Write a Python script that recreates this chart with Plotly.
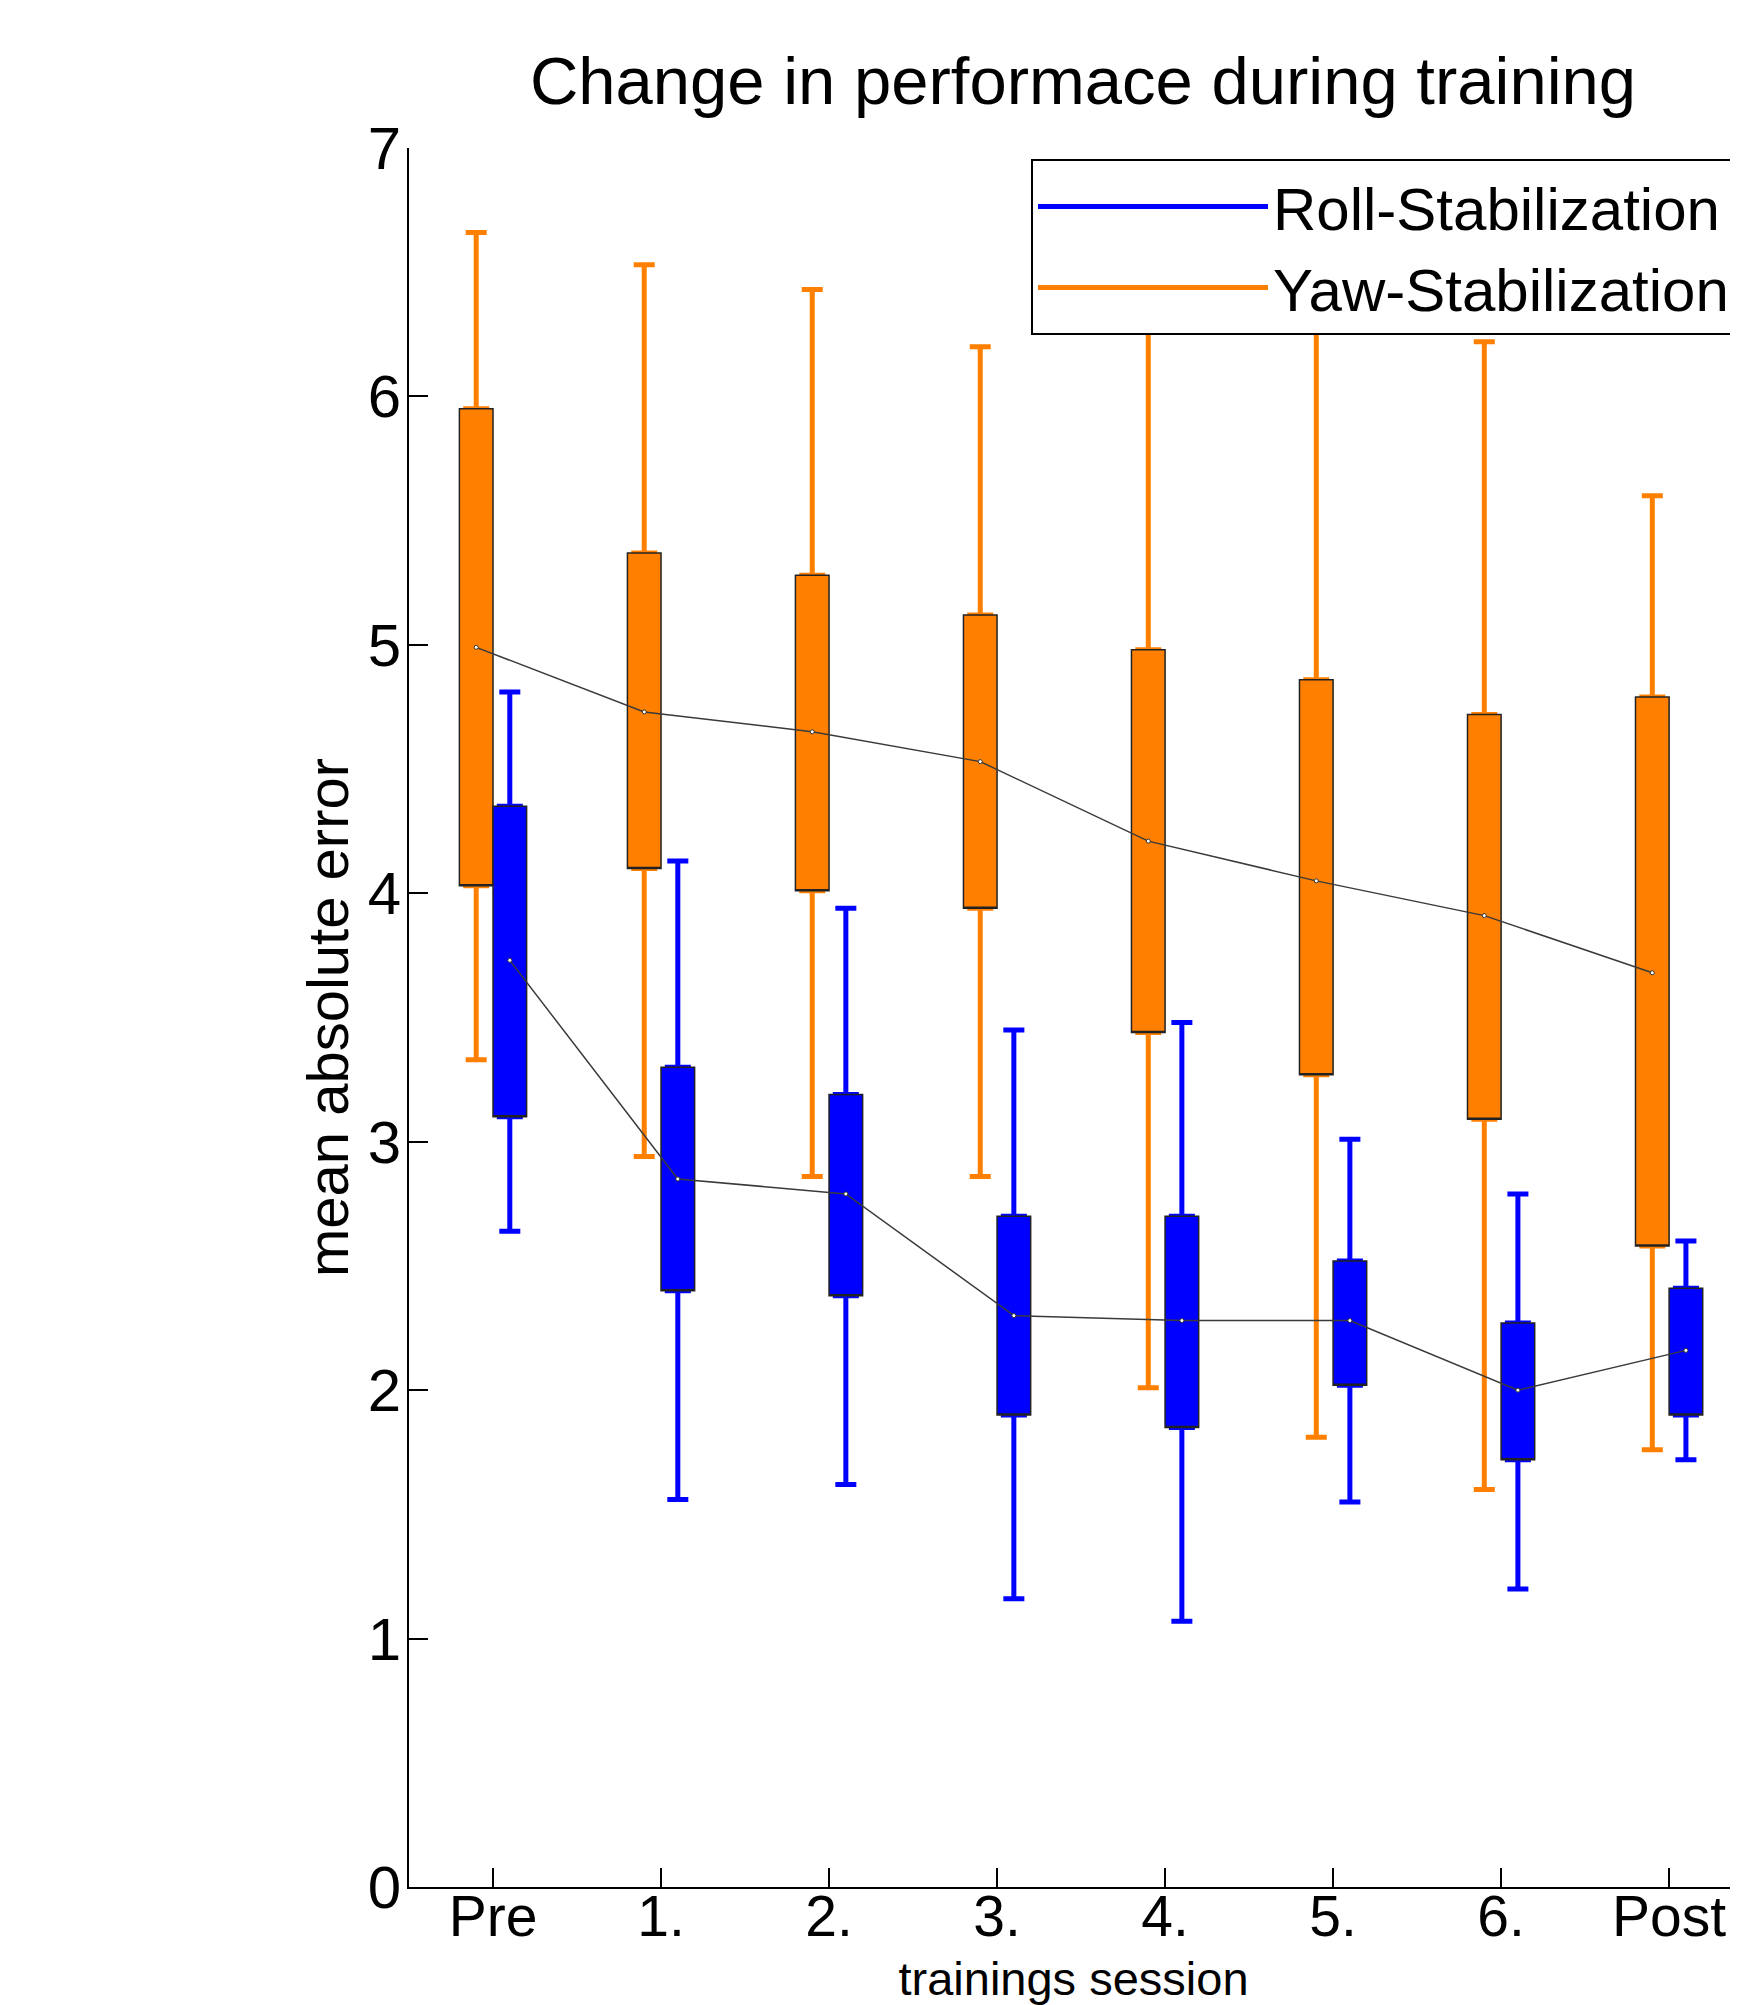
import plotly.graph_objects as go
import numpy as np

sessions = ["Pre", "1.", "2.", "3.", "4.", "5.", "6.", "Post"]
positions = np.arange(1, 9)

# Yaw-Stabilization (orange)
yaw_upper = [6.66, 6.53, 6.43, 6.20, 6.60, 6.32, 6.22, 5.60]
yaw_q3 = [5.95, 5.37, 5.28, 5.12, 4.98, 4.86, 4.72, 4.79]
yaw_median = [4.99, 4.73, 4.65, 4.53, 4.21, 4.05, 3.91, 3.68]
yaw_q1 = [4.03, 4.10, 4.01, 3.94, 3.44, 3.27, 3.09, 2.58]
yaw_lower = [3.33, 2.94, 2.86, 2.86, 2.01, 1.81, 1.60, 1.76]

# Roll-Stabilization (blue)
roll_upper = [4.81, 4.13, 3.94, 3.45, 3.48, 3.01, 2.79, 2.60]
roll_q3 = [4.35, 3.30, 3.19, 2.70, 2.70, 2.52, 2.27, 2.41]
roll_median = [3.73, 2.85, 2.79, 2.30, 2.28, 2.28, 2.00, 2.16]
roll_q1 = [3.10, 2.40, 2.38, 1.90, 1.85, 2.02, 1.72, 1.90]
roll_lower = [2.64, 1.56, 1.62, 1.16, 1.07, 1.55, 1.20, 1.72]

ORANGE = "#FF8000"
BLUE = "#0000FF"
FONT = "Liberation Sans, Arial, sans-serif"

yaw_x = positions - 0.1
roll_x = positions + 0.1

fig = go.Figure()

# whiskers (thick coloured lines with caps)
for xs, lo, q1, med, q3, up, col in [
    (yaw_x, yaw_lower, yaw_q1, yaw_median, yaw_q3, yaw_upper, ORANGE),
    (roll_x, roll_lower, roll_q1, roll_median, roll_q3, roll_upper, BLUE),
]:
    fig.add_trace(go.Box(
        x=xs, q1=q1, median=med, q3=q3, lowerfence=lo, upperfence=up,
        width=0.125, whiskerwidth=1, boxpoints=False,
        line=dict(color=col, width=5), fillcolor=col,
        showlegend=False, hoverinfo="skip",
    ))

# box bodies (thin dark outline)
for xs, q1, q3, col in [
    (yaw_x, yaw_q1, yaw_q3, ORANGE),
    (roll_x, roll_q1, roll_q3, BLUE),
]:
    fig.add_trace(go.Box(
        x=xs, q1=q1, median=q1, q3=q3, lowerfence=q1, upperfence=q3,
        width=0.2, whiskerwidth=0, boxpoints=False,
        line=dict(color="#222222", width=1.5), fillcolor=col,
        showlegend=False,
    ))

# median connecting lines
for xs, med in [(yaw_x, yaw_median), (roll_x, roll_median)]:
    fig.add_trace(go.Scatter(
        x=xs, y=med, mode="lines+markers",
        line=dict(color="#3a3a3a", width=1.5),
        marker=dict(size=4, color="white", line=dict(color="#333333", width=1)),
        showlegend=False,
    ))

# legend entries
fig.add_trace(go.Scatter(x=[None], y=[None], mode="lines", name="Roll-Stabilization",
                         line=dict(color=BLUE, width=5)))
fig.add_trace(go.Scatter(x=[None], y=[None], mode="lines", name="Yaw-Stabilization",
                         line=dict(color=ORANGE, width=5)))

W, H = 1730, 1997
L, T, B = 401, 140, 118
plot_h = H - T - B
plot_w = W - L

fig.update_layout(
    width=W, height=H,
    margin=dict(l=L, r=0, t=T, b=B, autoexpand=False),
    paper_bgcolor="white", plot_bgcolor="white",
    font=dict(family=FONT, size=60, color="black"),
    boxmode="overlay",
    title=dict(text="Change in performace during training", x=1075 / W, xref="container",
               xanchor="center", y=1 - 73 / H, yref="container", yanchor="middle",
               font=dict(size=67, color="black")),
    legend=dict(x=1 - 2 / plot_w, xanchor="right", y=1 - 11 / plot_h, yanchor="top",
                bordercolor="black", borderwidth=2, bgcolor="white",
                font=dict(size=60), tracegroupgap=0, itemwidth=230),
    xaxis=dict(range=[0.5, 8.41], tickmode="array", tickvals=positions, ticktext=sessions,
               ticks="inside", ticklen=19, tickwidth=1.5, tickcolor="black",
               tickfont=dict(size=57), ticklabelstandoff=-21,
               showline=True, linecolor="black", linewidth=2, showgrid=False, zeroline=False,
               title=dict(text="trainings session", standoff=30, font=dict(size=47)),
               automargin=False),
    yaxis=dict(range=[0, 7], tickmode="array", tickvals=list(range(8)),
               ticks="inside", ticklen=19, tickwidth=1.5, tickcolor="black",
               tickfont=dict(size=60), ticklabelstandoff=-6,
               showline=True, linecolor="black", linewidth=2, showgrid=False, zeroline=False,
               title=dict(text="mean absolute error", standoff=0, font=dict(size=58)),
               automargin=False),
)

fig.write_html("out.html")
